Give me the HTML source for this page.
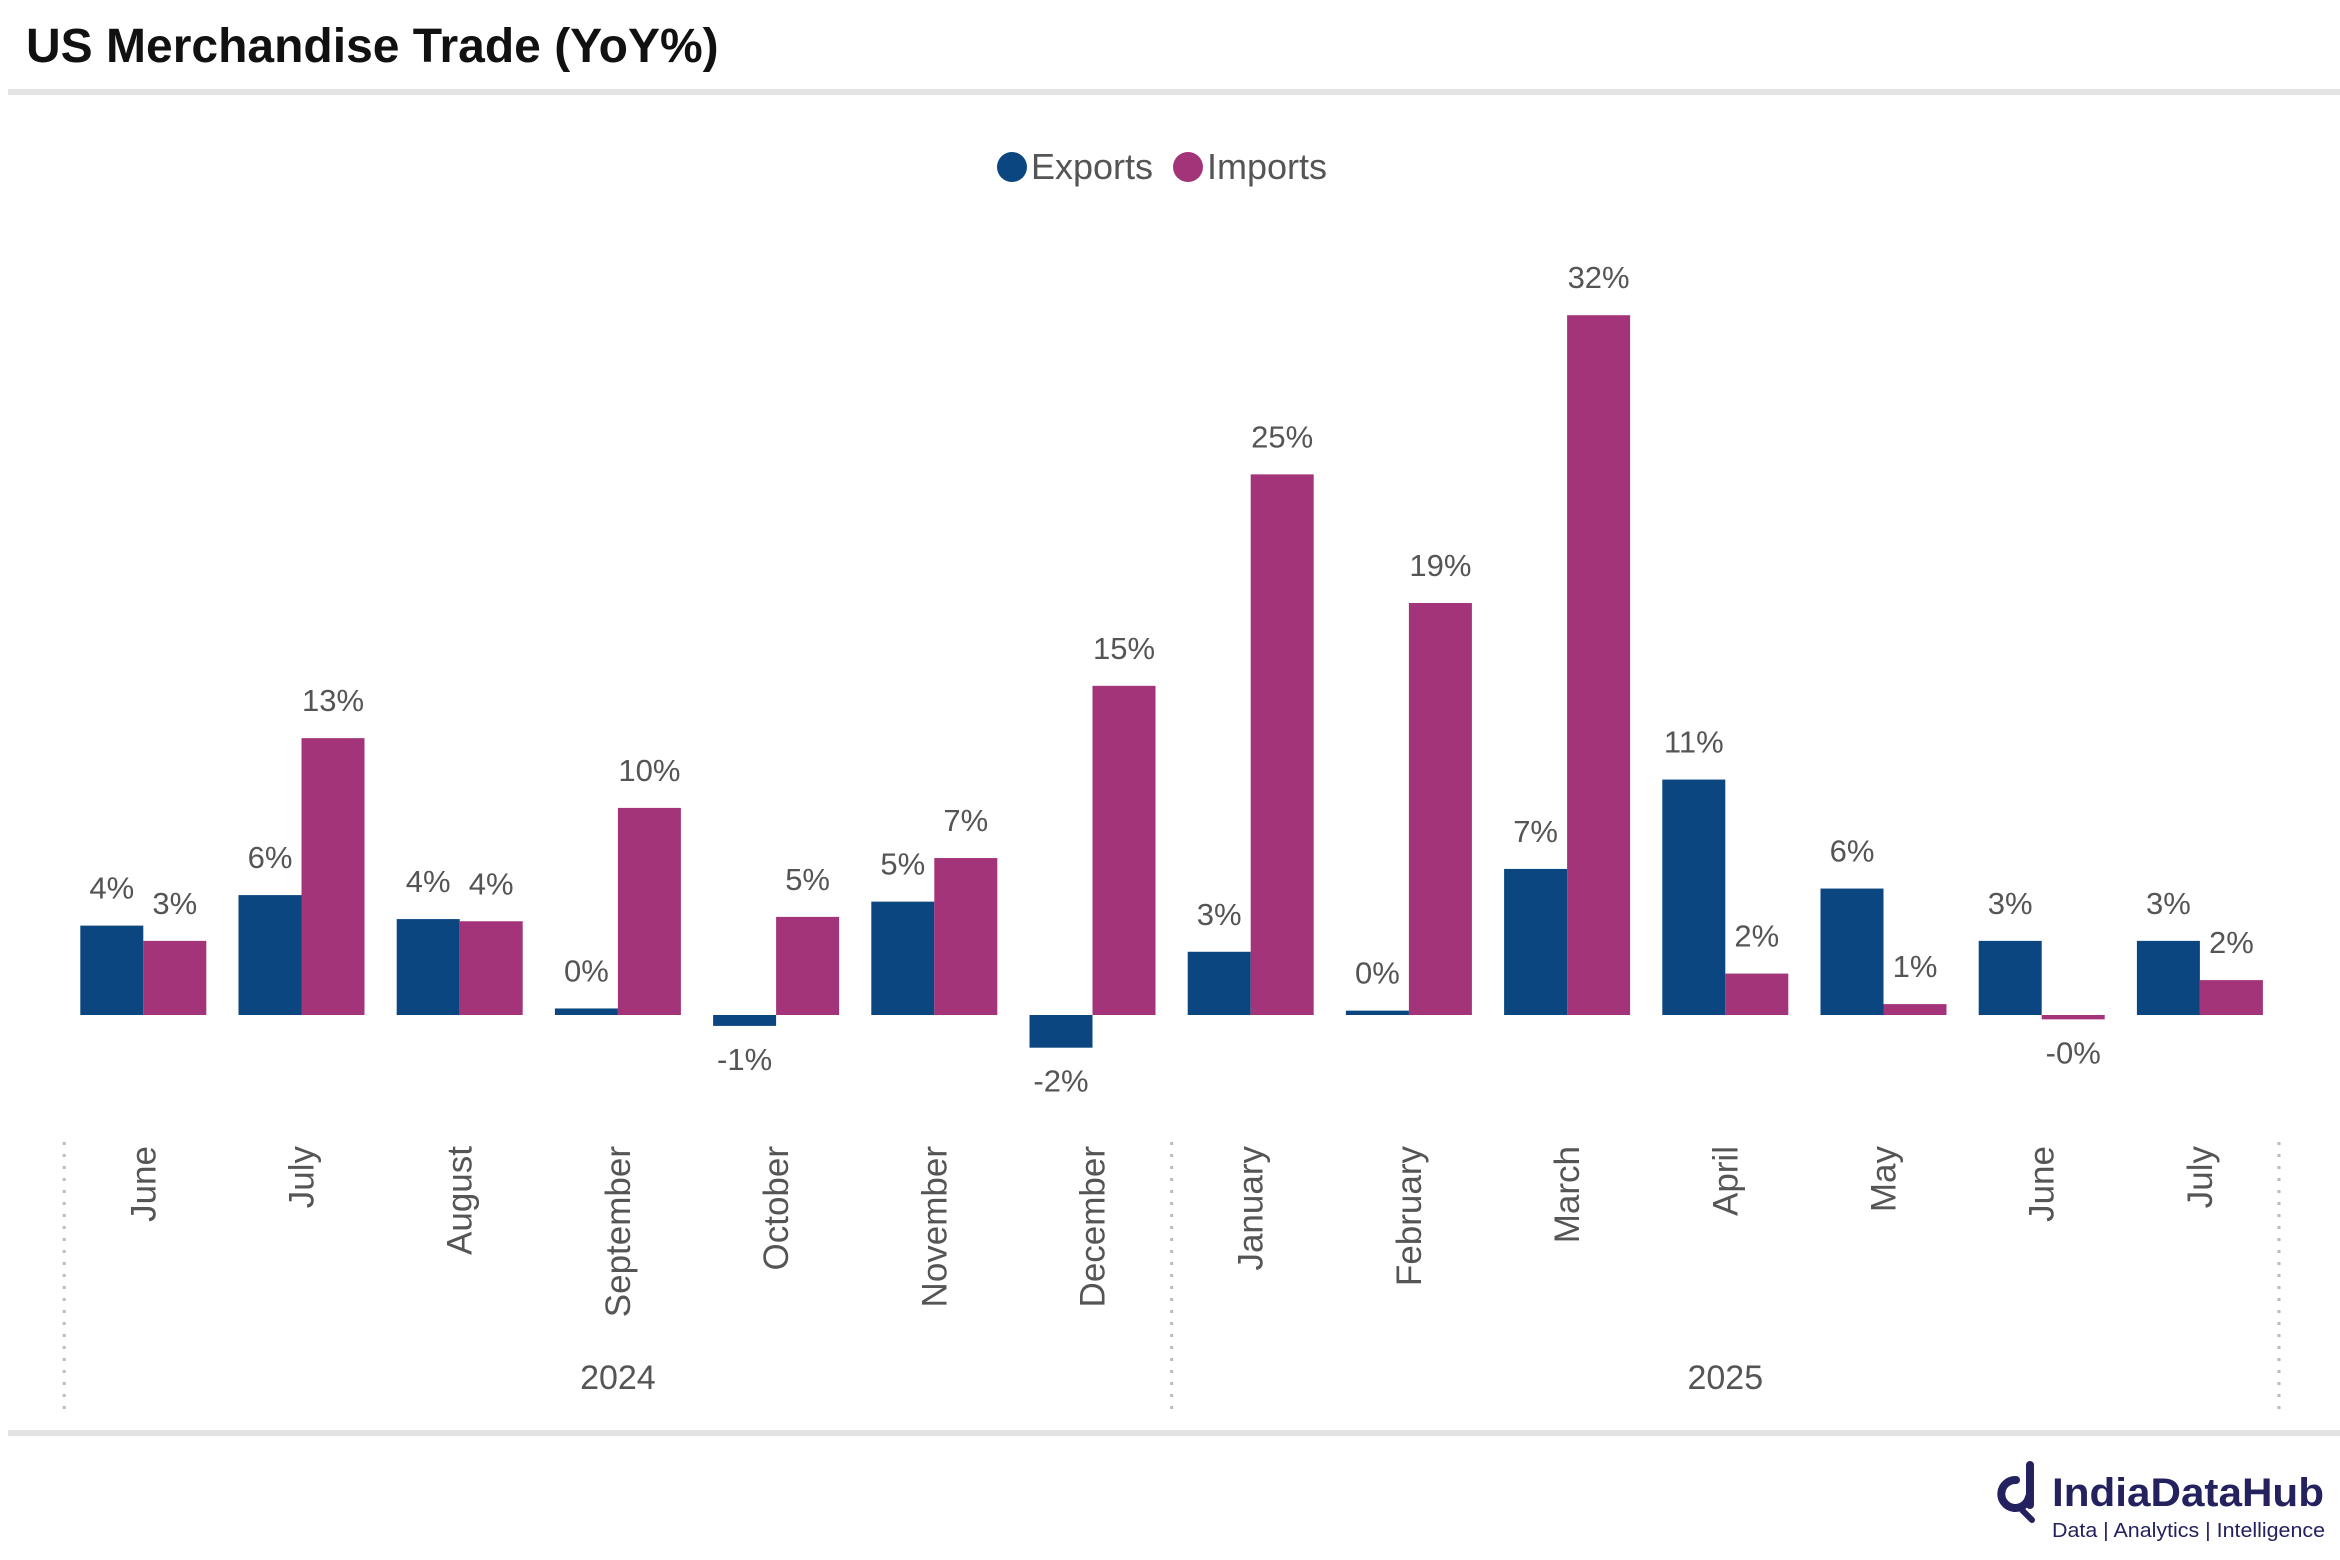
<!DOCTYPE html>
<html><head><meta charset="utf-8"><style>
html,body{margin:0;padding:0;background:#fff;}
svg{display:block;font-family:"Liberation Sans","DejaVu Sans",sans-serif;}
</style></head><body>
<svg id="chart" width="2340" height="1560" viewBox="0 0 2340 1560" xmlns="http://www.w3.org/2000/svg">
<text x="26" y="62" font-size="48" font-weight="bold" fill="#111">US Merchandise Trade (YoY%)</text>
<rect x="8" y="89" width="2336" height="6" fill="#e3e3e3"/>
<g>
 <circle cx="1012" cy="167" r="15" fill="#0b4680"/>
 <text x="1031" y="179" font-size="36" fill="#555">Exports</text>
 <circle cx="1188" cy="167" r="15" fill="#a4347a"/>
 <text x="1207" y="179" font-size="36" fill="#555">Imports</text>
</g>
<g id="bars"></g>
<g id="xaxis"></g>
<rect x="8" y="1430" width="2336" height="6" fill="#e3e3e3"/>
<g>
 <path d="M2030 1465 L2030 1505 M2029 1497 A14 14 0 1 1 2016 1480" stroke="#23215e" stroke-width="8" fill="none" stroke-linecap="round"/>
 <path d="M2022 1510 L2032 1520" stroke="#23215e" stroke-width="6" stroke-linecap="round"/>
 <text x="2052" y="1506" font-size="40" font-weight="bold" fill="#23215e" textLength="272" lengthAdjust="spacingAndGlyphs">IndiaDataHub</text>
 <text x="2052" y="1537" font-size="20" fill="#23215e" textLength="273" lengthAdjust="spacingAndGlyphs">Data | Analytics | Intelligence</text>
</g>
</svg>
<script>
const months = ["June","July","August","September","October","November","December","January","February","March","April","May","June","July"];
const exportsVals = [4.1,5.5,4.4,0.3,-0.5,5.2,-1.5,2.9,0.2,6.7,10.8,5.8,3.4,3.4];
const importsVals = [3.4,12.7,4.3,9.5,4.5,7.2,15.1,24.8,18.9,32.1,1.9,0.5,-0.2,1.6];
const exportLabels = ["4%","6%","4%","0%","-1%","5%","-2%","3%","0%","7%","11%","6%","3%","3%"];
const importLabels = ["3%","13%","4%","10%","5%","7%","15%","25%","19%","32%","2%","1%","-0%","2%"];
const years = ["2024","2025"];
const yearGroupSize = [7,7];

const NS="http://www.w3.org/2000/svg";
const x0=64.2, groupW=158.2, barW=63, zeroY=1015, pxPer=21.8;
function xGroup(i){return x0+groupW*i;}
function yScale(v){return zeroY - v*pxPer;}
function mk(tag,attrs,parent){const e=document.createElementNS(NS,tag);for(const k in attrs)e.setAttribute(k,attrs[k]);parent.appendChild(e);return e;}
const bars=document.getElementById('bars'), xa=document.getElementById('xaxis');
function drawBar(v,x,color,label,name){
  const h=Math.max(Math.abs(yScale(v)-zeroY),3);
  const r=mk('rect',{x:x,y:(v<0?zeroY:zeroY-h),width:barW,height:h,fill:color},bars);
  
  
  const ty = v>=0 ? yScale(v)-27 : zeroY+h+44;
  const t=mk('text',{x:x+barW/2,y:ty,'font-size':31,fill:'#555','text-anchor':'middle'},bars);
  t.textContent=label;
  
  
}
months.forEach((m,i)=>{
  const gx=xGroup(i)+ (groupW-2*barW)/2;
  drawBar(exportsVals[i],gx,'#0b4680',exportLabels[i],'bar-exports-'+i);
  drawBar(importsVals[i],gx+barW,'#a4347a',importLabels[i],'bar-imports-'+i);
  const cx=xGroup(i)+groupW/2;
  const t=mk('text',{x:0,y:0,'font-size':35,fill:'#555','text-anchor':'end',transform:`translate(${cx+12},1146) rotate(-90)`},xa);
  t.textContent=m;
  
  
});
let start=0;
const sepXs=[xGroup(0)];
years.forEach((y,j)=>{
  const end=start+yearGroupSize[j];
  const cx=(xGroup(start)+xGroup(end))/2;
  const t=mk('text',{x:cx,y:1389,'font-size':34,fill:'#555','text-anchor':'middle'},xa);
  t.textContent=y;
  
  
  sepXs.push(xGroup(end));
  start=end;
});
sepXs.forEach((sx,k)=>{
  const l=mk('line',{x1:sx,x2:sx,y1:1142,y2:1410,stroke:'#bbb','stroke-width':3,'stroke-dasharray':'3 9'},xa);
  
  
});
</script>
</body></html>
